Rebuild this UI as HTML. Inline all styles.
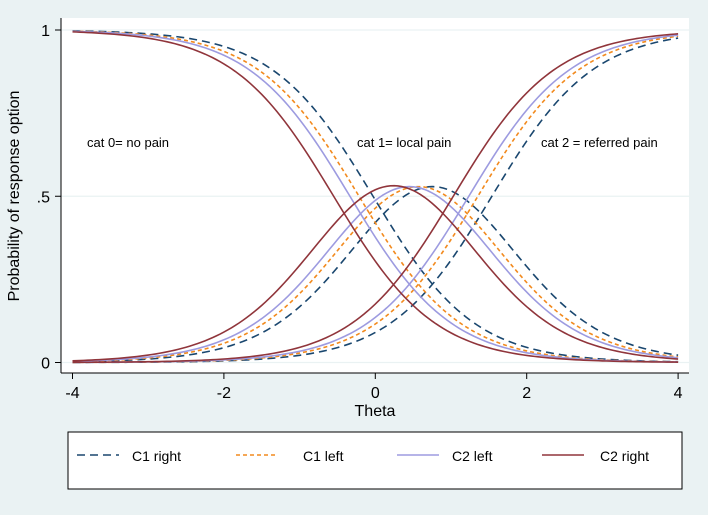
<!DOCTYPE html>
<html><head><meta charset="utf-8">
<style>
html,body{margin:0;padding:0;background:#eaf2f3;}
svg{display:block;font-family:"Liberation Sans",Arial,sans-serif;}
</style></head>
<body>
<svg id="chart" width="708" height="515" viewBox="0 0 708 515">
  <rect x="0" y="0" width="708" height="515" fill="#eaf2f3"/>
  <rect x="61" y="18" width="628" height="355" fill="#ffffff"/>
  <g id="grid"></g>
  <g id="series"></g>
  <line x1="61" y1="18" x2="61" y2="373" stroke="#000" stroke-width="1"/>
  <line x1="61" y1="373" x2="689" y2="373" stroke="#000" stroke-width="1"/>
  <g id="axes"></g>
  <text x="375" y="416" font-size="16" text-anchor="middle" fill="#000">Theta</text>
  <text transform="translate(19,196) rotate(-90)" font-size="16" text-anchor="middle" fill="#000">Probability of response option</text>
  <text x="87" y="147" font-size="13" fill="#000">cat 0= no pain</text>
  <text x="357" y="147" font-size="13" fill="#000">cat 1= local pain</text>
  <text x="541" y="147" font-size="13" fill="#000">cat 2 = referred pain</text>
  <rect x="68" y="432" width="614" height="57" fill="#ffffff" stroke="#000" stroke-width="1"/>
  <g id="legend"></g>
</svg>
<script>
const seriesNames = ["C1 right","C1 left","C2 left","C2 right"];
const discrimination = [1.5, 1.5, 1.5, 1.5];
const threshold1 = [-0.03, -0.215, -0.335, -0.55];
const threshold2 = [1.54, 1.355, 1.235, 1.03];
const xTicks = [-4,-2,0,2,4];
const yTicks = [0,0.5,1];
const yTickLabels = ["0",".5","1"];

const colors = ["#1a476f","#f28a1e","#9d9be0","#90353b"];
const dashes = ["8,5","4,3","",""];
const NS = "http://www.w3.org/2000/svg";
const xs = v => 375.3 + v*75.7;
const ys = v => 362.5 - v*332.5;
function mk(tag, attrs, parent){const e=document.createElementNS(NS,tag);for(const k in attrs)e.setAttribute(k,attrs[k]);parent.appendChild(e);return e;}
const grid=document.getElementById('grid'), axes=document.getElementById('axes'), sg=document.getElementById('series'), lg=document.getElementById('legend');
yTicks.forEach((t,i)=>{
  const g=mk('line',{x1:61,x2:689,y1:ys(t),y2:ys(t),stroke:'#eaf2f3','stroke-width':1.2},grid);
  
  
  const tk=mk('line',{x1:55,x2:61,y1:ys(t),y2:ys(t),stroke:'#000'},axes);
  
  
  const lb=mk('text',{x:50,y:ys(t)+6,'font-size':16,'text-anchor':'end'},axes);
  lb.textContent=yTickLabels[i];
  
  
});
xTicks.forEach(t=>{
  const tk=mk('line',{x1:xs(t),x2:xs(t),y1:373,y2:379,stroke:'#000'},axes);
  
  
  const lb=mk('text',{x:xs(t),y:398,'font-size':16,'text-anchor':'middle'},axes);
  lb.textContent=String(t);
  
  
});
const sig=z=>1/(1+Math.exp(-z));
seriesNames.forEach((nm,i)=>{
  const a=discrimination[i],b1=threshold1[i],b2=threshold2[i];
  const pts=[[],[],[]];
  for(let k=0;k<=160;k++){
    const th=-4+k*0.05;
    const s1=sig(a*(th-b1)), s2=sig(a*(th-b2));
    const p=[1-s1,s1-s2,s2];
    for(let c=0;c<3;c++)pts[c].push(xs(th).toFixed(2)+','+ys(p[c]).toFixed(2));
  }
  for(let c=0;c<3;c++){
    const pl=mk('polyline',{points:pts[c].join(' '),fill:'none',stroke:colors[i],'stroke-width':1.6},sg);
    if(dashes[i])pl.setAttribute('stroke-dasharray',dashes[i]);
    
    
  }
  const lx=[77,236,397,542][i];
  const ll=mk('line',{x1:lx,x2:lx+42,y1:455,y2:455,stroke:colors[i],'stroke-width':1.6},lg);
  if(dashes[i])ll.setAttribute('stroke-dasharray',dashes[i]);
  
  
  const lt=mk('text',{x:[132,303,452,600][i],y:461,'font-size':14},lg);
  lt.textContent=nm;
  
  
});
</script>
</body></html>
